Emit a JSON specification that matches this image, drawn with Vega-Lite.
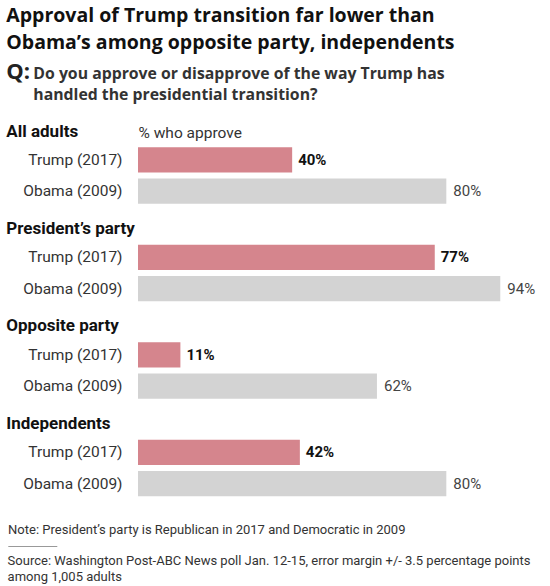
{
  "$schema": "https://vega.github.io/schema/vega-lite/v6.json",
  "padding": {"left": 6, "top": 6, "right": 8, "bottom": 4},
  "datasets": {
    "poll": [
      {"group": "All adults", "who": "Trump (2017)", "value": 40},
      {"group": "All adults", "who": "Obama (2009)", "value": 80},
      {"group": "President’s party", "who": "Trump (2017)", "value": 77},
      {"group": "President’s party", "who": "Obama (2009)", "value": 94},
      {"group": "Opposite party", "who": "Trump (2017)", "value": 11},
      {"group": "Opposite party", "who": "Obama (2009)", "value": 62},
      {"group": "Independents", "who": "Trump (2017)", "value": 42},
      {"group": "Independents", "who": "Obama (2009)", "value": 80}
    ]
  },
  "title": {
    "text": ["Approval of Trump transition far lower than", "Obama’s among opposite party, independents"],
    "subtitle": "Q:",
    "anchor": "start", "frame": "bounds", "font": "Open Sans", "fontSize": 19.5, "fontWeight": "bold",
    "lineHeight": 27, "color": "#111",
    "subtitleFont": "Open Sans", "subtitleFontSize": 22, "subtitleFontWeight": "bold", "subtitleColor": "#222",
    "subtitlePadding": 8, "offset": -18
  },
  "vconcat": [
    {
      "title": {
        "text": ["Do you approve or disapprove of the way Trump has", "handled the presidential transition?"],
        "anchor": "start", "frame": "bounds", "dx": 27, "font": "Open Sans", "fontSize": 15.8, "fontWeight": "bold", "color": "#333",
        "lineHeight": 21, "offset": 19.5
      },
      "spacing": 23,
      "vconcat": [
        {
          "spacing": 12.5,
          "vconcat": [
            {
              "title": {"text": "All adults", "anchor": "start", "frame": "group", "dx": -131.7, "offset": -16, "fontSize": 17, "fontWeight": "bold", "color": "#111"},
              "data": {"name": "poll"},
              "transform": [{"filter": {"field": "group", "equal": "All adults"}}, {"calculate": "datum.value + '%'", "as": "label"}],
              "width": 385.4, "height": 63,
              "encoding": {
                "y": {"field": "who", "type": "nominal", "title": null, "sort": ["Trump (2017)", "Obama (2009)"], "scale": {"paddingInner": 0.19, "paddingOuter": 0.1}},
                "x": {"field": "value", "type": "quantitative", "scale": {"domain": [0, 100]},
                  "axis": {"orient": "top", "title": "% who approve", "labels": false, "titleAnchor": "start", "titleFontWeight": "normal", "titleFontSize": 15.5, "titleColor": "#333", "titlePadding": 4}}
              },
              "layer": [
                {"mark": {"type": "bar"}, "encoding": {"color": {"field": "who", "type": "nominal", "scale": {"domain": ["Trump (2017)", "Obama (2009)"], "range": ["#d5858d", "#d3d3d3"]}, "legend": null}}},
                {"transform": [{"filter": {"field": "who", "equal": "Trump (2017)"}}], "mark": {"type": "text", "align": "left", "dx": 6, "fontWeight": "bold", "fontSize": 15, "color": "#111"}, "encoding": {"text": {"field": "label"}}},
                {"transform": [{"filter": {"field": "who", "equal": "Obama (2009)"}}], "mark": {"type": "text", "align": "left", "dx": 7, "fontSize": 15, "color": "#444"}, "encoding": {"text": {"field": "label"}}}
              ]
            },
            {
              "title": {"text": "President’s party", "anchor": "start", "frame": "group", "dx": -131.7, "offset": 4, "fontSize": 17, "fontWeight": "bold", "color": "#111"},
              "data": {"name": "poll"},
              "transform": [{"filter": {"field": "group", "equal": "President’s party"}}, {"calculate": "datum.value + '%'", "as": "label"}],
              "width": 385.4, "height": 63,
              "encoding": {
                "y": {"field": "who", "type": "nominal", "title": null, "sort": ["Trump (2017)", "Obama (2009)"], "scale": {"paddingInner": 0.19, "paddingOuter": 0.1}},
                "x": {"field": "value", "type": "quantitative", "scale": {"domain": [0, 100]}, "axis": null}
              },
              "layer": [
                {"mark": {"type": "bar"}, "encoding": {"color": {"field": "who", "type": "nominal", "scale": {"domain": ["Trump (2017)", "Obama (2009)"], "range": ["#d5858d", "#d3d3d3"]}, "legend": null}}},
                {"transform": [{"filter": {"field": "who", "equal": "Trump (2017)"}}], "mark": {"type": "text", "align": "left", "dx": 6, "fontWeight": "bold", "fontSize": 15, "color": "#111"}, "encoding": {"text": {"field": "label"}}},
                {"transform": [{"filter": {"field": "who", "equal": "Obama (2009)"}}], "mark": {"type": "text", "align": "left", "dx": 7, "fontSize": 15, "color": "#444"}, "encoding": {"text": {"field": "label"}}}
              ]
            },
            {
              "title": {"text": "Opposite party", "anchor": "start", "frame": "group", "dx": -131.7, "offset": 4, "fontSize": 17, "fontWeight": "bold", "color": "#111"},
              "data": {"name": "poll"},
              "transform": [{"filter": {"field": "group", "equal": "Opposite party"}}, {"calculate": "datum.value + '%'", "as": "label"}],
              "width": 385.4, "height": 63,
              "encoding": {
                "y": {"field": "who", "type": "nominal", "title": null, "sort": ["Trump (2017)", "Obama (2009)"], "scale": {"paddingInner": 0.19, "paddingOuter": 0.1}},
                "x": {"field": "value", "type": "quantitative", "scale": {"domain": [0, 100]}, "axis": null}
              },
              "layer": [
                {"mark": {"type": "bar"}, "encoding": {"color": {"field": "who", "type": "nominal", "scale": {"domain": ["Trump (2017)", "Obama (2009)"], "range": ["#d5858d", "#d3d3d3"]}, "legend": null}}},
                {"transform": [{"filter": {"field": "who", "equal": "Trump (2017)"}}], "mark": {"type": "text", "align": "left", "dx": 6, "fontWeight": "bold", "fontSize": 15, "color": "#111"}, "encoding": {"text": {"field": "label"}}},
                {"transform": [{"filter": {"field": "who", "equal": "Obama (2009)"}}], "mark": {"type": "text", "align": "left", "dx": 7, "fontSize": 15, "color": "#444"}, "encoding": {"text": {"field": "label"}}}
              ]
            },
            {
              "title": {"text": "Independents", "anchor": "start", "frame": "group", "dx": -131.7, "offset": 4, "fontSize": 17, "fontWeight": "bold", "color": "#111"},
              "data": {"name": "poll"},
              "transform": [{"filter": {"field": "group", "equal": "Independents"}}, {"calculate": "datum.value + '%'", "as": "label"}],
              "width": 385.4, "height": 63,
              "encoding": {
                "y": {"field": "who", "type": "nominal", "title": null, "sort": ["Trump (2017)", "Obama (2009)"], "scale": {"paddingInner": 0.19, "paddingOuter": 0.1}},
                "x": {"field": "value", "type": "quantitative", "scale": {"domain": [0, 100]}, "axis": null}
              },
              "layer": [
                {"mark": {"type": "bar"}, "encoding": {"color": {"field": "who", "type": "nominal", "scale": {"domain": ["Trump (2017)", "Obama (2009)"], "range": ["#d5858d", "#d3d3d3"]}, "legend": null}}},
                {"transform": [{"filter": {"field": "who", "equal": "Trump (2017)"}}], "mark": {"type": "text", "align": "left", "dx": 6, "fontWeight": "bold", "fontSize": 15, "color": "#111"}, "encoding": {"text": {"field": "label"}}},
                {"transform": [{"filter": {"field": "who", "equal": "Obama (2009)"}}], "mark": {"type": "text", "align": "left", "dx": 7, "fontSize": 15, "color": "#444"}, "encoding": {"text": {"field": "label"}}}
              ]
            }
          ]
        },
        {
          "data": {"values": [{}]},
          "width": 1, "height": 1,
          "mark": {"type": "rule", "color": "#999", "strokeWidth": 1},
          "encoding": {
            "x": {"datum": 0, "type": "quantitative", "scale": {"domain": [0, 1], "range": [-129.7, -80.7]},
              "axis": {"orient": "top", "title": "Note: President’s party is Republican in 2017 and Democratic in 2009", "labels": false, "titleX": -130.4, "titleAlign": "left", "titleAnchor": "start", "titleFontSize": 13, "titleFontWeight": "normal", "titleColor": "#333", "titlePadding": 10}},
            "x2": {"datum": 1}
          },
          "title": {
            "text": ["Source: Washington Post-ABC News poll Jan. 12-15, error margin +/- 3.5 percentage points", "among 1,005 adults"],
            "orient": "bottom", "anchor": "start", "frame": "bounds", "fontSize": 13, "fontWeight": "normal",
            "color": "#333", "lineHeight": 16, "offset": 8
          }
        }
      ]
    }
  ],
  "config": {
    "font": "Roboto",
    "view": {"stroke": null},
    "axis": {"ticks": false, "domain": false, "grid": false, "labelFontSize": 15.5, "labelColor": "#333", "labelPadding": 16}
  }
}
